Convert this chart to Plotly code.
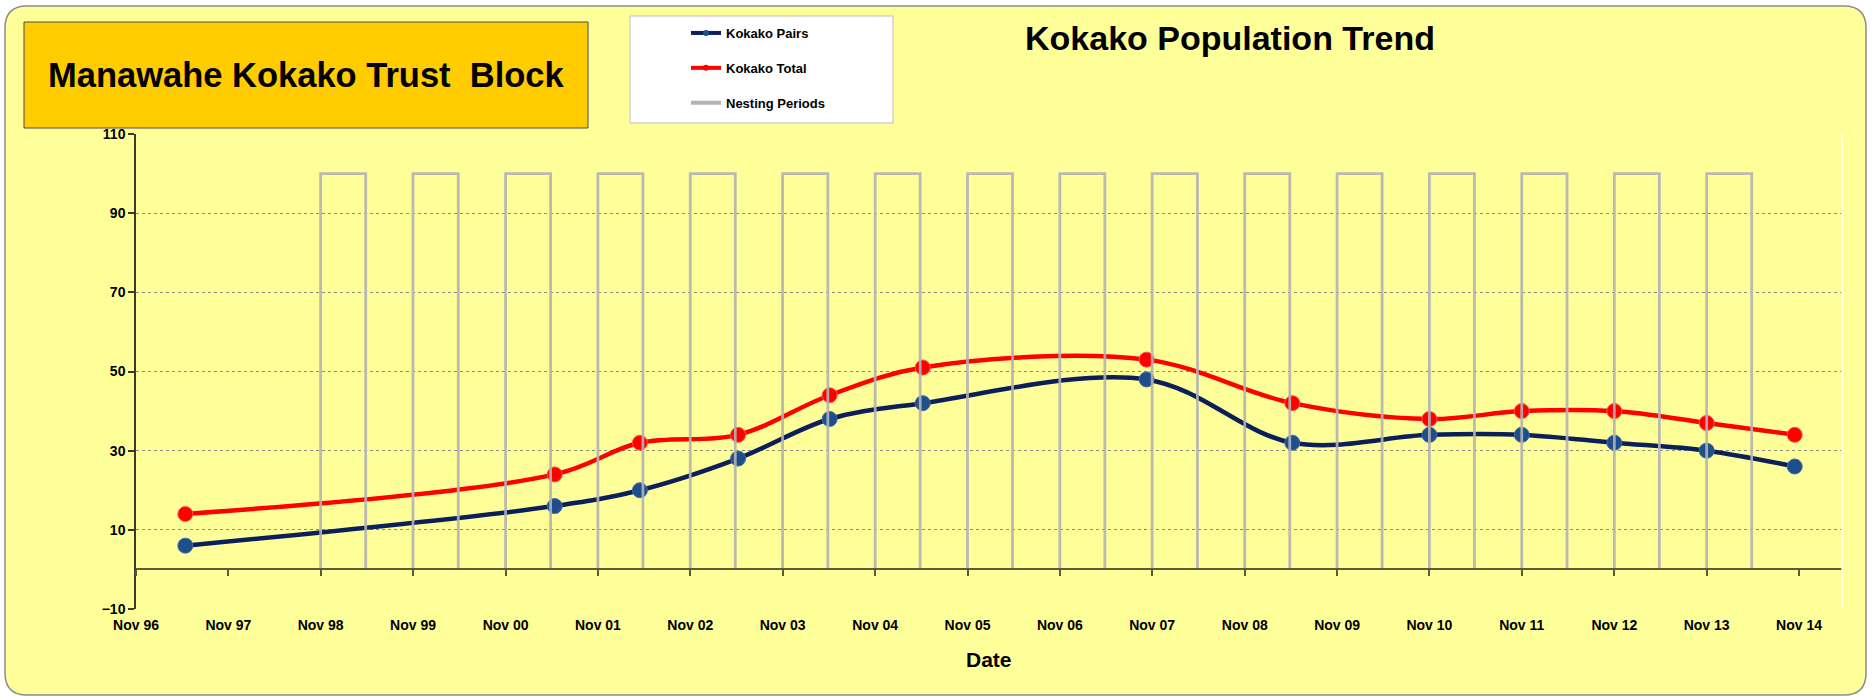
import plotly.graph_objects as go

# ---------------- data ----------------
obs_dates = ["1997-05-15", "2001-05-14", "2002-04-16", "2003-05-09", "2004-05-05",
             "2005-05-08", "2007-10-10", "2009-05-08", "2010-11-01", "2011-11-01",
             "2012-11-01", "2013-11-01", "2014-10-15"]
kokako_pairs = [6, 16, 20, 28, 38, 42, 48, 32, 34, 34, 32, 30, 26]
kokako_total = [14, 24, 32, 34, 44, 51, 53, 42, 38, 40, 40, 37, 34]

nest_start = ["1998-11-01", "1999-11-01", "2000-11-01", "2001-11-01", "2002-11-01",
              "2003-11-01", "2004-11-01", "2005-11-01", "2006-11-01", "2007-11-01",
              "2008-11-01", "2009-11-01", "2010-11-01", "2011-11-01", "2012-11-01",
              "2013-11-01"]
nest_end = ["1999-04-28", "2000-04-28", "2001-04-28", "2002-04-28", "2003-04-28",
            "2004-04-28", "2005-04-28", "2006-04-28", "2007-04-28", "2008-04-28",
            "2009-04-28", "2010-04-28", "2011-04-28", "2012-04-28", "2013-04-28",
            "2014-04-28"]
nest_level = 100

tick_dates = ["1996-11-01", "1997-11-01", "1998-11-01", "1999-11-01", "2000-11-01",
              "2001-11-01", "2002-11-01", "2003-11-01", "2004-11-01", "2005-11-01",
              "2006-11-01", "2007-11-01", "2008-11-01", "2009-11-01", "2010-11-01",
              "2011-11-01", "2012-11-01", "2013-11-01", "2014-11-01"]
tick_labels = ["Nov 96", "Nov 97", "Nov 98", "Nov 99", "Nov 00", "Nov 01", "Nov 02",
               "Nov 03", "Nov 04", "Nov 05", "Nov 06", "Nov 07", "Nov 08", "Nov 09",
               "Nov 10", "Nov 11", "Nov 12", "Nov 13", "Nov 14"]
y_ticks = [-10, 10, 30, 50, 70, 90, 110]

# nesting step series built from the period lists
nest_x, nest_y = [], []
for s, e in zip(nest_start, nest_end):
    nest_x += [s, s, e, e]
    nest_y += [0, nest_level, nest_level, 0]
    nest_x.append(None)
    nest_y.append(None)

# ---------------- layout helpers ----------------
W, H = 1872, 700
L, R, T, B = 136, 30, 134, 91
PW, PH = W - L - R, H - T - B

def px(x):
    return (x - L) / PW

def py(y):
    return (H - B - y) / PH

FONT = "Liberation Sans Narrow, Arial Narrow, Liberation Sans, Arial, sans-serif"
NAVY = "#0b1f5a"
NAVY_MK = "#1f4e8c"
RED = "#ff0000"
GREY = "rgba(178,178,178,0.9)"
BG = "#ffff99"

fig = go.Figure()

fig.add_trace(go.Scatter(
    x=obs_dates, y=kokako_pairs, mode="lines+markers", name="Kokako Pairs",
    line=dict(color=NAVY, width=4.5, shape="spline", smoothing=1.0),
    marker=dict(color=NAVY_MK, size=15, line=dict(color="#3d6aa8", width=1)),
    showlegend=False))
fig.add_trace(go.Scatter(
    x=obs_dates, y=kokako_total, mode="lines+markers", name="Kokako Total",
    line=dict(color=RED, width=4.5, shape="spline", smoothing=1.0),
    marker=dict(color=RED, size=15, line=dict(color="#ff5050", width=1)),
    showlegend=False))
fig.add_trace(go.Scatter(
    x=nest_x, y=nest_y, mode="lines", name="Nesting Periods",
    line=dict(color=GREY, width=2.8), connectgaps=False, showlegend=False))

# legend-only entries (small markers, as in the reference legend)
for nm, lc, mc, mode in [("Kokako Pairs", NAVY, NAVY_MK, "lines+markers"),
                         ("Kokako Total", RED, RED, "lines+markers"),
                         ("Nesting Periods", "#b4b4b4", "#b4b4b4", "lines")]:
    fig.add_trace(go.Scatter(x=[None], y=[None], mode=mode, name=nm, legendgroup=nm,
                             line=dict(color=lc, width=4),
                             marker=dict(color=mc, size=6)))

# outer rounded frame
l0, t0, r0, b0, rad = 5, 6, 1866, 695, 22
path = (f"M {px(l0+rad)} {py(t0)} L {px(r0-rad)} {py(t0)} Q {px(r0)} {py(t0)} {px(r0)} {py(t0+rad)} "
        f"L {px(r0)} {py(b0-rad)} Q {px(r0)} {py(b0)} {px(r0-rad)} {py(b0)} "
        f"L {px(l0+rad)} {py(b0)} Q {px(l0)} {py(b0)} {px(l0)} {py(b0-rad)} "
        f"L {px(l0)} {py(t0+rad)} Q {px(l0)} {py(t0)} {px(l0+rad)} {py(t0)} Z")
shapes = [
    dict(type="path", path=path, xref="paper", yref="paper", layer="below",
         fillcolor=BG, line=dict(color="#8c8c8c", width=1.5)),
    # title box
    dict(type="rect", xref="paper", yref="paper", x0=px(24), x1=px(588),
         y0=py(128), y1=py(22), fillcolor="#ffcc00", line=dict(color="#4d4d4d", width=1)),
    # legend box
    dict(type="rect", xref="paper", yref="paper", x0=px(630), x1=px(893),
         y0=py(123), y1=py(16), fillcolor="white", line=dict(color="#bdbdbd", width=1)),
    # right plot-area edge
    dict(type="line", xref="paper", yref="paper", x0=1, x1=1, y0=0, y1=1,
         line=dict(color="rgba(255,255,255,0.9)", width=1.5)),
]

annotations = [
    dict(text="Manawahe Kokako Trust  Block", xref="paper", yref="paper",
         x=px(306), y=py(75), xanchor="center", yanchor="middle", showarrow=False,
         font=dict(family=FONT, size=34.5, color="black", weight="bold")),
    dict(text="Kokako Population Trend", xref="paper", yref="paper",
         x=px(1230), y=py(38), xanchor="center", yanchor="middle", showarrow=False,
         font=dict(family=FONT, size=34, color="black", weight="bold")),
    dict(text="Date", xref="paper", yref="paper",
         x=px(989), y=py(659), xanchor="center", yanchor="middle", showarrow=False,
         font=dict(family=FONT, size=21, color="black", weight="bold")),
]

fig.update_layout(
    width=W, height=H,
    margin=dict(l=L, r=R, t=T, b=B, autoexpand=False),
    paper_bgcolor="white", plot_bgcolor=BG,
    shapes=shapes, annotations=annotations,
    showlegend=True,
    legend=dict(x=px(686), y=py(18), xanchor="left", yanchor="top",
                bgcolor="rgba(0,0,0,0)", borderwidth=0, traceorder="grouped",
                tracegroupgap=15, itemwidth=30,
                font=dict(family=FONT, size=13, color="black", weight="bold")),
    xaxis=dict(type="date", range=["1996-11-01", "2015-04-20"],
               tickvals=tick_dates, ticktext=tick_labels,
               anchor="free", position=10 / 120,
               showline=True, linecolor="#5a5a35", linewidth=1.5,
               ticks="outside", ticklen=6, tickcolor="#5a5a35", tickwidth=1.5,
               ticklabelstandoff=37, showgrid=False, zeroline=False,
               tickfont=dict(family=FONT, size=14, color="black", weight="bold"),
               automargin=False),
    yaxis=dict(range=[-10, 110], tickvals=y_ticks,
               showline=True, linecolor="#3a3a2a", linewidth=1.5,
               ticks="outside", ticklen=6, tickcolor="#3a3a2a", tickwidth=1.5,
               showgrid=True, gridcolor="#8a8a78", griddash="dot", gridwidth=1,
               zeroline=False,
               tickfont=dict(family=FONT, size=14, color="black", weight="bold"),
               automargin=False),
)

fig.write_html("out.html", post_script="document.body.style.margin='0';",
               config={"displayModeBar": False})
